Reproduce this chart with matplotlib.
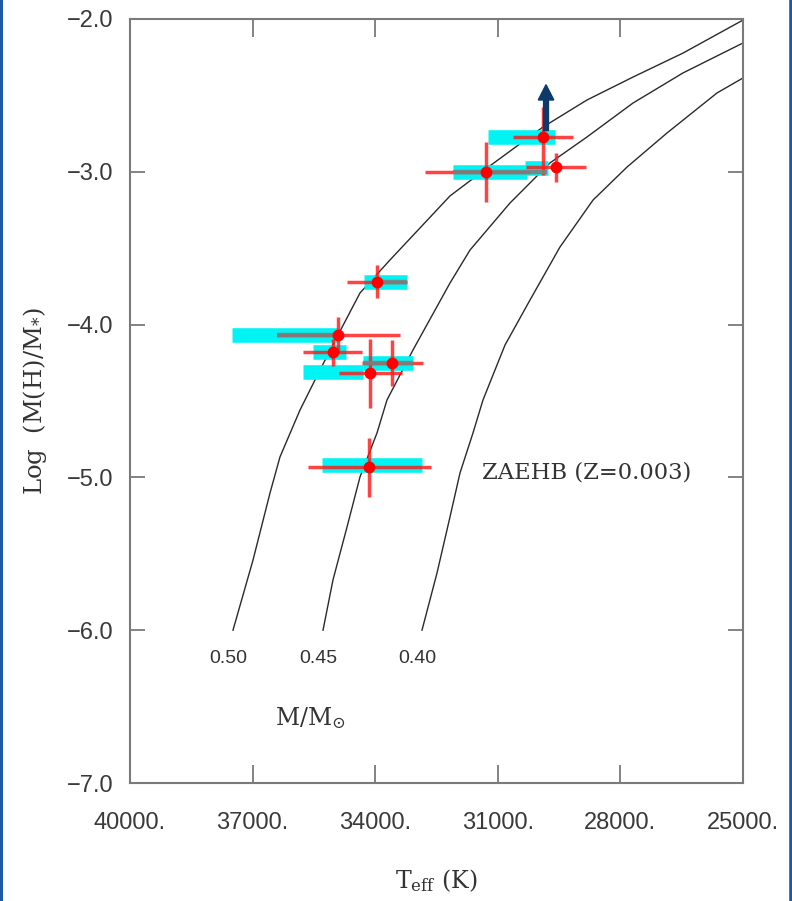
import matplotlib
matplotlib.use('Agg')
import matplotlib.pyplot as plt
from matplotlib.lines import Line2D

plt.rcParams['mathtext.fontset'] = 'dejavuserif'

# ---------------- data ----------------
# ZAEHB tracks (Z=0.003) for three masses
track_masses = ['0.50', '0.45', '0.40']
track_050_teff = [37480, 36990, 36574, 36330, 35840, 35351, 34910, 34372, 33638,
                  32170, 31264, 29894, 28817, 27692, 26468, 25000]
track_050_logmh = [-6.00, -5.541, -5.102, -4.866, -4.559, -4.297, -4.068, -3.793, -3.577,
                   -3.158, -2.975, -2.707, -2.530, -2.380, -2.223, -2.007]
track_045_teff = [35277, 35033, 34690, 34372, 33956, 33711, 33075, 32170, 31680,
                  30701, 29723, 28817, 27692, 26468, 25000]
track_045_logmh = [-6.00, -5.671, -5.325, -4.997, -4.709, -4.493, -4.166, -3.728, -3.512,
                   -3.204, -2.942, -2.772, -2.550, -2.353, -2.157]
track_040_teff = [32855, 32488, 32170, 31925, 31607, 31362, 30824, 30212, 29478,
                  28670, 27838, 26860, 25636, 25000]
track_040_logmh = [-6.00, -5.626, -5.259, -4.971, -4.709, -4.493, -4.134, -3.839, -3.492,
                   -3.185, -2.969, -2.746, -2.484, -2.386]

# stars (red points)
star_teff = [31290, 29900, 29580, 33950, 34900, 35040, 34130, 33600, 34150]
star_logmh = [-3.00, -2.77, -2.97, -3.72, -4.07, -4.18, -4.32, -4.25, -4.93]
star_teff_err_hot = [1490, 730, 735, 735, 1500, 727, 756, 723, 1490]
star_teff_err_cool = [1080, 740, 735, 735, 1510, 717, 786, 770, 1520]
star_logmh_err_up = [0.195, 0.196, 0.095, 0.108, 0.117, 0.088, 0.227, 0.152, 0.19]
star_logmh_err_dn = [0.195, 0.25, 0.095, 0.108, 0.117, 0.088, 0.224, 0.155, 0.20]

# cyan ranges
box_teff_hot = [32096, 31240, 30334, 34274, 37504, 35522, 35767, 34298, 35302]
box_teff_cool = [30285, 29600, 29771, 33222, 34935, 34714, 34298, 33075, 32855]
box_logmh = [-3.00, -2.769, -2.972, -3.724, -4.068, -4.179, -4.310, -4.251, -4.922]

# gray bars
gray_teff_hot = [33955, 36403, 32096, 34298]
gray_teff_cool = [33222, 34910, 29796, 33075]
gray_logmh = [-3.721, -4.070, -3.00, -4.253]

# lower-limit arrow
arrow_teff = 29820
arrow_logmh_from = -2.73
arrow_logmh_to = -2.43

x_ticks = [40000, 37000, 34000, 31000, 28000, 25000]
x_ticklabels = ['40000.', '37000.', '34000.', '31000.', '28000.', '25000.']
y_ticks = [-2.0, -3.0, -4.0, -5.0, -6.0, -7.0]
y_ticklabels = ['\u22122.0', '\u22123.0', '\u22124.0', '\u22125.0', '\u22126.0', '\u22127.0']

# ---------------- figure ----------------
W, H = 792, 901
fig = plt.figure(figsize=(W / 100, H / 100), dpi=100)
ax = fig.add_axes([130 / W, 1 - 783 / H, 613 / W, 764 / H])

ax.set_xlim(40000, 25000)
ax.set_ylim(-7.0, -2.0)

spine_col = '#7a7a7a'
for s in ax.spines.values():
    s.set_color(spine_col)
    s.set_linewidth(1.5)

ax.set_xticks(x_ticks)
ax.set_xticklabels(x_ticklabels, fontfamily='Liberation Sans', fontsize=17, color='#3a3a3a')
ax.set_yticks(y_ticks)
ax.set_yticklabels(y_ticklabels, fontfamily='Liberation Sans', fontsize=17, color='#3a3a3a')
ax.tick_params(axis='x', direction='in', length=13, width=1.3, color=spine_col,
               top=True, bottom=True, pad=21)
ax.tick_params(axis='y', direction='in', length=11, width=1.3, color=spine_col,
               left=True, right=True, pad=12)

# tracks
for tx, ty in [(track_050_teff, track_050_logmh),
               (track_045_teff, track_045_logmh),
               (track_040_teff, track_040_logmh)]:
    ax.plot(tx, ty, color='#2a2a2a', lw=1.0, zorder=2)

for lab, tx in zip(track_masses, [track_050_teff, track_045_teff, track_040_teff]):
    ax.text(tx[0] + 120, -6.215, lab, ha='center', va='baseline',
            fontfamily='Liberation Sans', fontsize=14, color='#333333')

ax.text(36452, -6.62, r'M/M$_{\odot}$', ha='left', va='baseline',
        fontfamily='DejaVu Serif', fontsize=17, color='#333333')
ax.text(31387, -5.004, 'ZAEHB (Z=0.003)', ha='left', va='baseline',
        fontfamily='DejaVu Serif', fontsize=16.3, color='#333333')

# cyan ranges
ax.hlines(box_logmh, box_teff_hot, box_teff_cool, colors='#00f4f4', lw=10.5,
          zorder=3)
ax.collections[-1].set_capstyle('butt')

# red error bars
xerr = [star_teff_err_cool, star_teff_err_hot]
yerr = [star_logmh_err_dn, star_logmh_err_up]
ax.errorbar(star_teff, star_logmh, xerr=xerr, yerr=yerr, fmt='none',
            ecolor='#ff1a1a', elinewidth=2.5, alpha=0.82, capsize=0, zorder=4)

# gray bars
ax.hlines(gray_logmh, gray_teff_hot, gray_teff_cool, colors='#7f7f7f', lw=3.2,
          alpha=0.9, zorder=5)

# markers
ax.plot(star_teff, star_logmh, 'o', color='#ff0000', ms=8.5, mec='none', zorder=6)

# arrow
ax.arrow(arrow_teff, arrow_logmh_from, 0, arrow_logmh_to - arrow_logmh_from,
         width=120, head_width=380, head_length=0.1, length_includes_head=True,
         color='#0b3a6b', zorder=7)

ax.set_xlabel(r'T$_{\rm eff}$ (K)', fontfamily='DejaVu Serif', fontsize=17,
              color='#333333', labelpad=24)
ax.set_ylabel(r'Log  (M(H)/M$_{*}$)', fontfamily='DejaVu Serif', fontsize=17.5,
              color='#333333', labelpad=13)

# blue frame edges
fig.add_artist(Line2D([1 / W, 1 / W], [0, 1], transform=fig.transFigure,
                      color='#1a5aa8', lw=2.2))
fig.add_artist(Line2D([790.5 / W, 790.5 / W], [0, 1], transform=fig.transFigure,
                      color='#1a5aa8', lw=2.6))

fig.savefig('out.png', dpi=100)
